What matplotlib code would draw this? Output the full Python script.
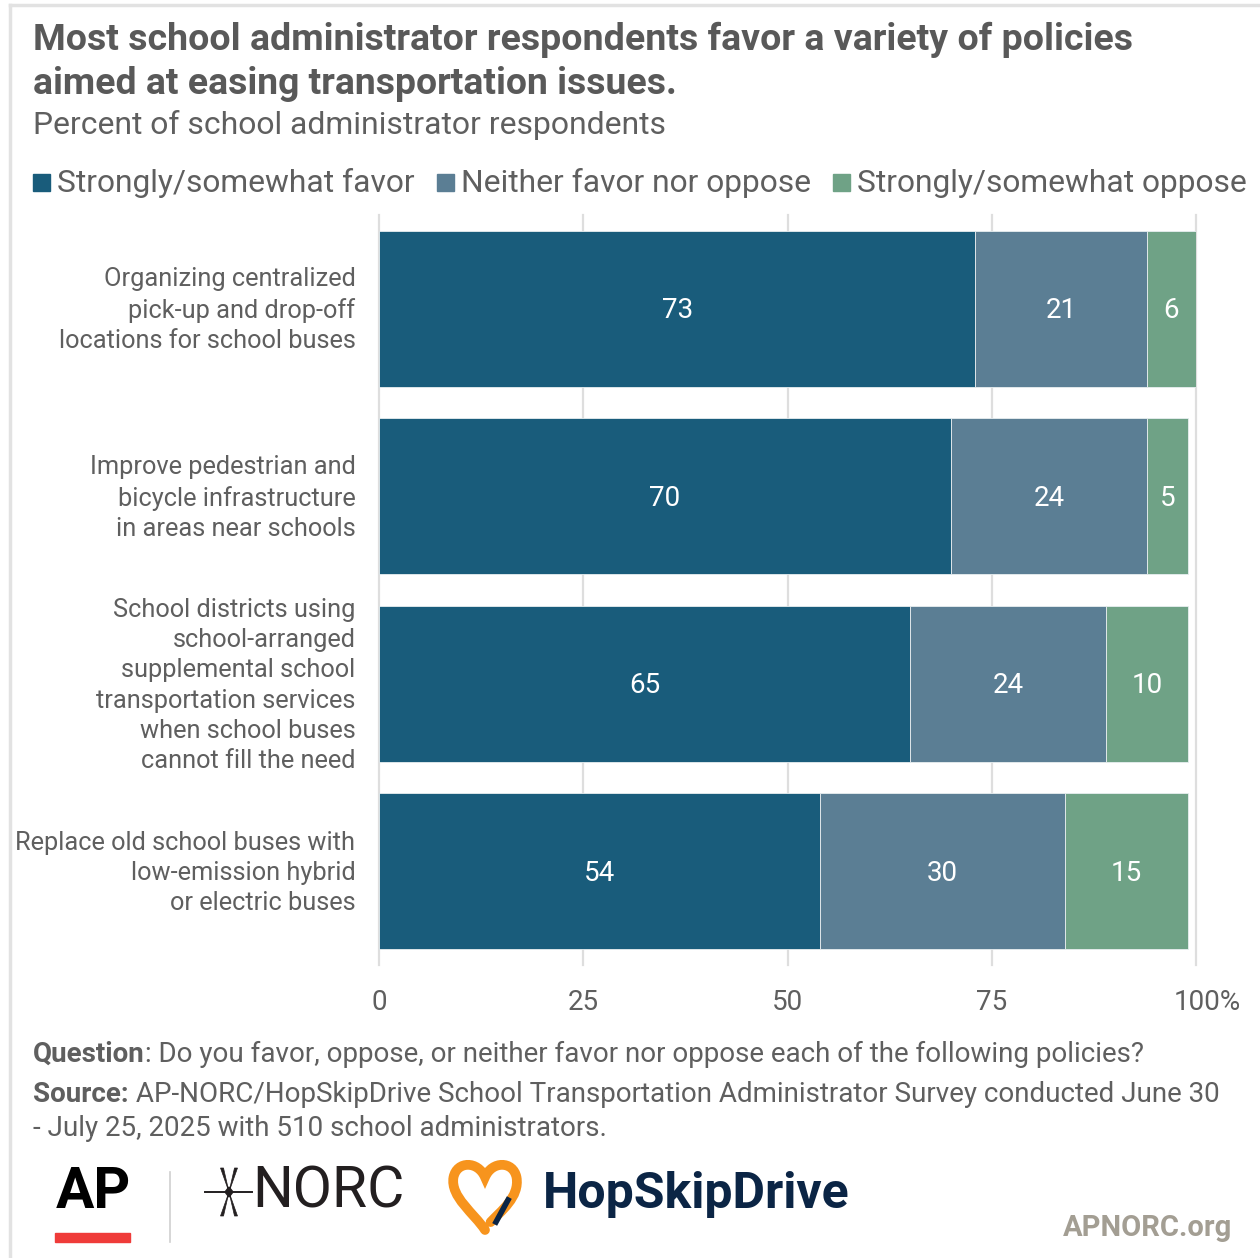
import matplotlib
matplotlib.use("Agg")
import matplotlib.pyplot as plt
from matplotlib.lines import Line2D
from matplotlib.patches import Rectangle, PathPatch, Polygon
from matplotlib.path import Path
from matplotlib.transforms import ScaledTranslation

plt.rcParams['font.family'] = ['Roboto', 'DejaVu Sans']

# ======================
# data
# ======================
categories = [
    "Organizing centralized\npick-up and drop-off\nlocations for school buses",
    "Improve pedestrian and\nbicycle infrastructure\nin areas near schools",
    "School districts using\nschool-arranged\nsupplemental school\ntransportation services\nwhen school buses\ncannot fill the need",
    "Replace old school buses with\nlow-emission hybrid\nor electric buses",
]
series_names = ["Strongly/somewhat favor", "Neither favor nor oppose", "Strongly/somewhat oppose"]
favor = [73, 70, 65, 54]
neither = [21, 24, 24, 30]
oppose = [6, 5, 10, 15]
x_ticks = [0, 25, 50, 75, 100]
x_ticklabels = ["0", "25", "50", "75", "100%"]

colors = ["#195c7b", "#5b7e94", "#6fa286"]
txt = "#5f5f5f"

W, H = 1260, 1258
def fx(px):
    return px / W
def fy(py):
    return 1 - py / H

fig = plt.figure(figsize=(W / 100, H / 100), dpi=100)
ax = fig.add_axes([fx(379), fy(965), fx(1196) - fx(379), fy(215) - fy(965)])

# ======================
# bars
# ======================
ys = list(range(len(categories)))
left = [0] * len(categories)
for name, vals, c in zip(series_names, [favor, neither, oppose], colors):
    ax.barh(ys, vals, left=left, height=0.83, color=c, edgecolor="#e8eef0", linewidth=0.6, zorder=3)
    for y, l, v in zip(ys, left, vals):
        ax.text(l + v / 2, y + 0.01, str(v), ha="center", va="center", color="white", fontsize=20, zorder=4)
    left = [l + v for l, v in zip(left, vals)]

ax.set_xlim(0, 100)
ax.set_ylim(3.5, -0.5)
ax.set_xticks(x_ticks, x_ticklabels)
ax.set_yticks(ys, categories)
ax.tick_params(axis="x", length=0, pad=17, labelsize=20, labelcolor=txt)
ax.tick_params(axis="y", length=0, pad=17, labelsize=18.3, labelcolor=txt)
ax.get_xticklabels()[-1].set_transform(ax.get_xticklabels()[-1].get_transform() + ScaledTranslation(11 / 100, 0, fig.dpi_scale_trans))
for t in ax.get_yticklabels():
    t.set_linespacing(1.33)
    t.set_transform(t.get_transform() + ScaledTranslation(0, 4 / 100, fig.dpi_scale_trans))
ax.grid(axis="x", color="#dedede", lw=1.6, zorder=0)
for gl in ax.get_xgridlines():
    gl.set_clip_on(False)
for s in ax.spines.values():
    s.set_visible(False)

# ======================
# titles
# ======================
fig.canvas.draw()
r = fig.canvas.get_renderer()

def fit_text(x, y, s, target_w, size, **kw):
    t = fig.text(x, y, s, fontsize=size, **kw)
    w = t.get_window_extent(r).width
    t.set_fontsize(size * target_w / w)
    return t

title_font = ["Liberation Sans Narrow", "Roboto", "DejaVu Sans"]
fit_text(fx(33), fy(40), "Most school administrator respondents favor a variety of policies", 1100, 26,
         family=title_font, weight="bold", color="#595959", va="center")
fit_text(fx(33), fy(84), "aimed at easing transportation issues.", 645, 26,
         family=title_font, weight="bold", color="#595959", va="center")
fit_text(fx(33), fy(125), "Percent of school administrator respondents", 632, 22,
         family=title_font, color=txt, va="center")

# legend
lx = 33
for name, c in zip(series_names, colors):
    fig.add_artist(Rectangle((fx(lx), fy(191)), fx(17), 17 / H, color=c))
    t = fig.text(fx(lx + 24), fy(183), name, fontsize=22.9, color=txt, va="center")
    lx = lx + 24 + t.get_window_extent(r).width + 22

# ======================
# footer
# ======================
fs = 20
q = fig.text(fx(33), fy(1054), "Question", fontsize=fs, weight="bold", color=txt, va="center")
ax.annotate(": Do you favor, oppose, or neither favor nor oppose each of the following policies?",
            xy=(1, 0), xycoords=q, va="bottom", fontsize=fs, color=txt, annotation_clip=False)
s = fig.text(fx(33), fy(1094), "Source:", fontsize=fs, weight="bold", color=txt, va="center")
ax.annotate(" AP-NORC/HopSkipDrive School Transportation Administrator Survey conducted June 30",
            xy=(1, 0), xycoords=s, va="bottom", fontsize=fs, color=txt, annotation_clip=False)
fig.text(fx(33), fy(1128), "- July 25, 2025 with 510 school administrators.", fontsize=fs, color=txt, va="center")

# ======================
# logos
# ======================
fig.text(fx(93), fy(1192), "AP", fontsize=41, weight="bold", color="black", ha="center", va="center")
fig.add_artist(Rectangle((fx(55), fy(1242)), fx(75), 9 / H, color="#ef3b39"))
fig.add_artist(Line2D([fx(170), fx(170)], [fy(1172), fy(1242)], color="#cfcfcf", lw=1.2))

# NORC star
cx, cy = 229, 1192
fig.add_artist(Line2D([fx(205), fx(252)], [fy(cy), fy(cy)], color="#231f20", lw=1.4))
for tx in (-1, 1):
    for ty in (-1, 1):
        tip = (cx + tx * 7, cy + ty * 24)
        fig.add_artist(Polygon([(fx(cx), fy(cy)), (fx(tip[0] - 1.5), fy(tip[1])), (fx(tip[0] + 1.5), fy(tip[1]))],
                               closed=True, color="#231f20", lw=0.5))
fig.add_artist(Polygon([(fx(cx - 4), fy(cy)), (fx(cx), fy(cy - 5)), (fx(cx + 4), fy(cy)), (fx(cx), fy(cy + 5))],
                       closed=True, color="#231f20"))
fig.text(fx(252), fy(1192), "NORC", fontsize=41, color="#231f20", va="center")

# heart
hx0, hy0, hw, hh = 450, 1230, 70, 66
pts = [(0.5, 0), (0.35, 0.25), (0.0, 0.5), (0.05, 0.8), (0.1, 1.05), (0.4, 1.05), (0.5, 0.8),
       (0.6, 1.05), (0.9, 1.05), (0.95, 0.8), (1.0, 0.5), (0.72, 0.28), (0.58, 0.12)]
codes = [Path.MOVETO] + [Path.CURVE4] * 12
verts = [(fx(hx0 + px * hw), fy(hy0 - py * hh)) for px, py in pts]
fig.add_artist(PathPatch(Path(verts, codes), fill=False, edgecolor="#f7941d", lw=7, capstyle="round",
                         transform=fig.transFigure))
fig.add_artist(Line2D([fx(496), fx(508)], [fy(1222), fy(1200)], color="#0b2545", lw=4))
fig.text(fx(543), fy(1195), "HopSkipDrive", fontsize=36, weight="bold", color="#0b2545", va="center")

fig.text(fx(1232), fy(1228), "APNORC.org", fontsize=21, weight="bold", color="#a39e93", ha="right", va="center")

# border
fig.add_artist(Line2D([fx(10), 1], [fy(5), fy(5)], color="#e2e2e2", lw=2.5))
fig.add_artist(Line2D([fx(10), fx(10)], [fy(5), 0], color="#e2e2e2", lw=2.5))

fig.savefig("out.png", dpi=100)
